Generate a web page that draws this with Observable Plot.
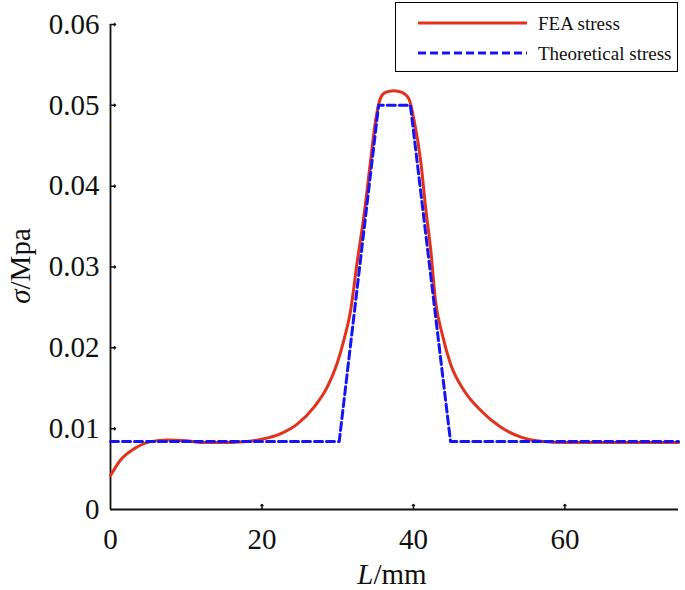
<!DOCTYPE html>
<html>
<head>
<meta charset="utf-8">
<script src="https://cdn.jsdelivr.net/npm/d3@7"></script>
<script src="https://cdn.jsdelivr.net/npm/@observablehq/plot@0.6"></script>
<style>
  html, body { margin: 0; padding: 0; background: #fff; }
  #wrap { position: relative; width: 685px; height: 590px; font-family: "Liberation Serif", "Times New Roman", serif; }
  #wrap svg text { font-family: "Liberation Serif", "Times New Roman", serif !important; }
  #legend { position: absolute; left: 395px; top: 2px; width: 283px; height: 70px; border: 1.5px solid #000; background: #fff; box-sizing: border-box; }
  .lg-row { position: absolute; left: 0; height: 30px; display: flex; align-items: center; }
  .lg-row span { font-size: 19px; color: #111; margin-left: 10px; line-height: 1; }
  .xlab { position: absolute; font-size: 29px; line-height: 1; color: #111; white-space: nowrap; transform: translate(-50%, -50%); }
  .ylab { position: absolute; font-size: 29px; line-height: 1; color: #111; white-space: nowrap; transform: translate(-50%, -50%) rotate(-90deg); }
</style>
</head>
<body>
<div id="wrap"></div>
<script>
// FEA stress curve (L in mm, sigma in MPa)
const feaL = [0, 1.3, 3.1, 5.3, 7.5, 10, 12, 16, 18, 20, 22.5, 24.7, 26.9, 28.6, 29.9, 30.8, 31.7, 32.6, 33.5, 34.3, 35.0, 35.7, 36.3, 37.4, 38.5, 39.4, 40.1, 41.0, 41.6, 42.3, 42.9, 43.8, 44.9, 46.7, 48.9, 51.5, 54.2, 56.8, 60, 65, 70, 75];
const feaS = [0.0042, 0.0061, 0.0075, 0.0084, 0.0086, 0.0085, 0.0083, 0.0083, 0.0084, 0.0087, 0.0094, 0.0106, 0.0127, 0.0151, 0.0180, 0.0209, 0.0246, 0.0308, 0.0366, 0.0428, 0.0481, 0.0510, 0.0516, 0.0518, 0.0516, 0.0508, 0.0481, 0.0428, 0.0374, 0.0320, 0.0259, 0.0217, 0.0180, 0.0147, 0.01225, 0.0102, 0.00895, 0.00845, 0.0083, 0.0083, 0.0083, 0.0083];
// Theoretical stress
const theoL = [0, 30.2, 35.4, 39.6, 44.9, 75];
const theoS = [0.0084, 0.0084, 0.05, 0.05, 0.0084, 0.0084];
// Ticks
const xTicks = [0, 20, 40, 60];
const yTicks = [0, 0.01, 0.02, 0.03, 0.04, 0.05, 0.06];
const yTickLabels = ["0", "0.01", "0.02", "0.03", "0.04", "0.05", "0.06"];
const seriesNames = ["FEA stress", "Theoretical stress"];
const seriesColors = ["#e2311d", "#1414f5"];

const fea = feaL.map((l, i) => ({L: l, s: feaS[i]}));
const theo = theoL.map((l, i) => ({L: l, s: theoS[i]}));
const serif = "'Liberation Serif', 'Times New Roman', serif";

const chart = Plot.plot({
  width: 685,
  height: 590,
  marginLeft: 110,
  marginRight: 7,
  marginTop: 24,
  marginBottom: 81,
  style: {fontFamily: serif, fontSize: "29px", color: "#111", background: "#fff"},
  x: {domain: [0, 75], ticks: xTicks},
  y: {domain: [0, 0.06], ticks: yTicks},
  marks: [
    Plot.axisX(xTicks, {tickSize: 0, tickPadding: 19, fontSize: 29, fontFamily: serif, label: null}),
    Plot.axisY(yTicks, {tickSize: 0, tickPadding: 11, fontSize: 29, fontFamily: serif, label: null, tickFormat: d => yTickLabels[yTicks.indexOf(d)]}),
    Plot.vector(yTicks.slice(1), {y: d => d, frameAnchor: "left", rotate: 90, length: 5, anchor: "start", stroke: "#111", strokeWidth: 1.5}),
    Plot.vector(xTicks.slice(1), {x: d => d, frameAnchor: "bottom", rotate: 0, length: 5, anchor: "start", stroke: "#111", strokeWidth: 1.5}),
    Plot.ruleX([0], {stroke: "#111", strokeWidth: 1.8}),
    Plot.ruleY([0], {stroke: "#111", strokeWidth: 1.8}),
    Plot.line(fea, {x: "L", y: "s", stroke: seriesColors[0], strokeWidth: 3, curve: "monotone-x"}),
    Plot.line(theo, {x: "L", y: "s", stroke: seriesColors[1], strokeWidth: 3, strokeDasharray: "8,4"})
  ]
});

const wrap = document.getElementById("wrap");
wrap.appendChild(chart);
chart.style.position = "absolute";
chart.style.left = "0";
chart.style.top = "0";

// Legend
const legend = document.createElement("div");
legend.id = "legend";
const dashes = [null, "8,4"];
seriesNames.forEach((name, i) => {
  const row = document.createElement("div");
  row.className = "lg-row";
  row.style.top = (5 + i * 30) + "px";
  row.innerHTML = `<svg width="132" height="6"><line x1="22" x2="131" y1="3" y2="3" stroke="${seriesColors[i]}" stroke-width="3" ${dashes[i] ? `stroke-dasharray="${dashes[i]}"` : ""}/></svg><span>${name}</span>`;
  legend.appendChild(row);
});
wrap.appendChild(legend);

// Axis titles
const xl = document.createElement("div");
xl.className = "xlab";
xl.style.left = "392px"; xl.style.top = "574px";
xl.innerHTML = "<i>L</i>/mm";
wrap.appendChild(xl);
const yl = document.createElement("div");
yl.className = "ylab";
yl.style.left = "20px"; yl.style.top = "266px";
yl.innerHTML = "<i>σ</i>/Mpa";
wrap.appendChild(yl);
</script>
</body>
</html>
